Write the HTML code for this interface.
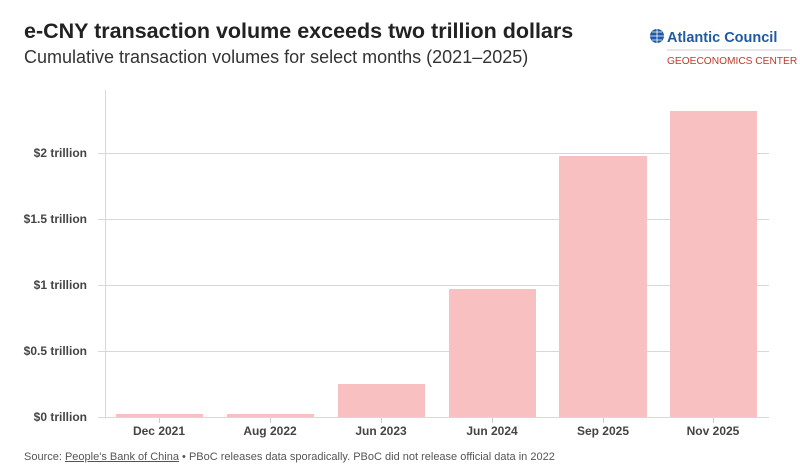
<!DOCTYPE html>
<html><head><style>
body{margin:0;width:800px;height:476px;background:#fff;font-family:"Liberation Sans",sans-serif;position:relative;overflow:hidden}
.t{position:absolute;left:24px;top:19px;font-size:21.5px;font-weight:bold;color:#222}
.s{position:absolute;left:24px;top:47px;font-size:18px;color:#333}
.src{position:absolute;left:24px;top:451px;font-size:11px;color:#555}
</style></head><body>
<div class="t">e-CNY transaction volume exceeds two trillion dollars</div>
<div class="s">Cumulative transaction volumes for select months (2021–2025)</div>
<svg style="position:absolute;left:0;top:0" width="800" height="476">
<g font-family="Liberation Sans" >
<circle cx="657" cy="36" r="7" fill="#1f5aa6"/>
<path d="M650 36h14M657 29v14M652 32h10M652 40h10" stroke="#fff" stroke-width="0.8"/>
<text x="667" y="42" font-size="14.5" font-weight="bold" fill="#1f5aa6">Atlantic Council</text>
<line x1="667" y1="50" x2="792" y2="50" stroke="#ccc"/>
<text x="667" y="64" font-size="10.2" fill="#c0392b">GEOECONOMICS CENTER</text>
</g>
<g stroke="#d8d8d8" stroke-width="1">
<line x1="98" y1="153.5" x2="769" y2="153.5"/>
<line x1="98" y1="219.5" x2="769" y2="219.5"/>
<line x1="98" y1="285.5" x2="769" y2="285.5"/>
<line x1="98" y1="351.5" x2="769" y2="351.5"/>
<line x1="98" y1="417.5" x2="769" y2="417.5"/>
<line x1="105.5" y1="90" x2="105.5" y2="417"/>
</g>
<g fill="#f9c0c2">
<rect x="116" y="414" width="87" height="3"/>
<rect x="227" y="414" width="87" height="3"/>
<rect x="338" y="384" width="87" height="33"/>
<rect x="449" y="289" width="87" height="128"/>
<rect x="559" y="156" width="88" height="261"/>
<rect x="670" y="111" width="87" height="306"/>
</g>
<g stroke="#ccc"><line x1="159.5" y1="418" x2="159.5" y2="423"/><line x1="270.5" y1="418" x2="270.5" y2="423"/><line x1="381.5" y1="418" x2="381.5" y2="423"/><line x1="492.5" y1="418" x2="492.5" y2="423"/><line x1="603.5" y1="418" x2="603.5" y2="423"/><line x1="713.5" y1="418" x2="713.5" y2="423"/></g>
<g font-family="Liberation Sans" font-size="12" font-weight="bold" fill="#444" text-anchor="end">
<text x="87" y="157">$2 trillion</text>
<text x="87" y="223">$1.5 trillion</text>
<text x="87" y="289">$1 trillion</text>
<text x="87" y="355">$0.5 trillion</text>
<text x="87" y="421">$0 trillion</text>
</g>
<g font-family="Liberation Sans" font-size="12" font-weight="bold" fill="#444" text-anchor="middle">
<text x="159" y="435">Dec 2021</text>
<text x="270" y="435">Aug 2022</text>
<text x="381" y="435">Jun 2023</text>
<text x="492" y="435">Jun 2024</text>
<text x="603" y="435">Sep 2025</text>
<text x="713" y="435">Nov 2025</text>
</g>
</svg>
<div class="src">Source: <u>People's Bank of China</u> • PBoC releases data sporadically. PBoC did not release official data in 2022</div>
</body></html>
